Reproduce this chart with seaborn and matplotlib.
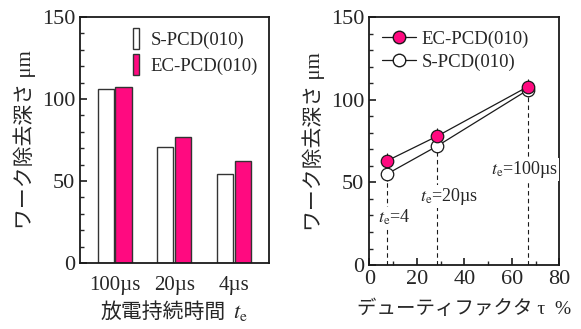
import numpy as np
import pandas as pd
import matplotlib
matplotlib.use("Agg")
import matplotlib.pyplot as plt
import seaborn as sns
from matplotlib.ticker import MultipleLocator
from matplotlib.patches import Patch
from matplotlib.lines import Line2D

sns.set_theme(style="ticks")
plt.rcParams["font.family"] = ["Liberation Serif", "Noto Sans CJK JP"]
plt.rcParams["mathtext.fontset"] = "stix"
plt.rcParams["axes.unicode_minus"] = False

# data
categories = ["100µs", "20µs", "4µs"]
s_depth = [106, 71, 54]
ec_depth = [107, 77, 62]

duty = [7.3, 28.5, 66.7]
s_line = [55, 72, 106]
ec_line = [63, 78, 108]
ec_err = [5, 5, 5]
s_err = [4, 4, 4]

pink = "#FF0A80"

bars = pd.DataFrame({
    "cat": categories * 2,
    "depth": s_depth + ec_depth,
    "type": ["S-PCD(010)"] * 3 + ["EC-PCD(010)"] * 3,
})

fig = plt.figure(figsize=(5.81, 3.29), dpi=100)
ax1 = fig.add_axes([0.1377, 0.2006, 0.3253, 0.748])
ax2 = fig.add_axes([0.6356, 0.1945, 0.327, 0.7525])

# left: bar chart
sns.barplot(data=bars, x="cat", y="depth", hue="type",
            palette=["white", pink], saturation=1, width=0.6, gap=0.1,
            edgecolor="#333333", linewidth=1.0, ax=ax1, legend=False)
ax1.set_ylim(0, 150)
ax1.set_xlim(-0.58, 2.59)
ax1.yaxis.set_major_locator(MultipleLocator(50))
ax1.yaxis.set_minor_locator(MultipleLocator(10))
ax1.tick_params(axis="y", which="major", direction="in", length=5, labelsize=16)
ax1.tick_params(axis="y", which="minor", direction="in", length=3)
ax1.tick_params(axis="x", length=0, labelsize=15, pad=9)
ax1.set_xlabel("放電持続時間", fontsize=15, labelpad=6, x=0.44)
ax1.annotate("$\\it{t}_{\\rm e}$", xy=(1, 0), xycoords=ax1.xaxis.label,
             xytext=(5, 0), textcoords="offset points",
             ha="left", va="bottom", fontsize=16)
ax1.set_ylabel("ワーク除去深さ μm", fontsize=15, labelpad=4)
h1 = [Patch(facecolor="white", edgecolor="#333333", lw=1.0),
      Patch(facecolor=pink, edgecolor="#333333", lw=1.0)]
ax1.legend(h1, ["S-PCD(010)", "EC-PCD(010)"], loc="upper right",
           frameon=False, fontsize=13.5, handlelength=0.35, handleheight=1.3,
           handletextpad=0.6, labelspacing=0.3, borderaxespad=0.2)

# right: line chart
ax2.vlines(duty, 0, s_line, colors="k", linestyles=(0, (4, 3)), lw=0.8, zorder=1)
ax2.errorbar(duty, ec_line, yerr=ec_err, fmt="none", ecolor="k", lw=0.8, zorder=2)
ax2.errorbar(duty, s_line, yerr=s_err, fmt="none", ecolor="k", lw=0.8, zorder=2)
sns.lineplot(x=duty, y=s_line, color="k", lw=0.9, marker="o", markersize=9,
             markerfacecolor="white", markeredgecolor="k", markeredgewidth=0.9,
             ax=ax2, zorder=3)
sns.lineplot(x=duty, y=ec_line, color="k", lw=0.9, marker="o", markersize=9,
             markerfacecolor=pink, markeredgecolor="k", markeredgewidth=0.9,
             ax=ax2, zorder=4)
ax2.set_xlim(0, 80)
ax2.set_ylim(0, 150)
ax2.xaxis.set_major_locator(MultipleLocator(20))
ax2.xaxis.set_minor_locator(MultipleLocator(10))
ax2.yaxis.set_major_locator(MultipleLocator(50))
ax2.yaxis.set_minor_locator(MultipleLocator(10))
ax2.tick_params(which="major", direction="in", length=5, labelsize=16)
ax2.tick_params(which="minor", direction="in", length=3)
ax2.set_xlabel("デューティファクタ τ  %", fontsize=14, labelpad=8)
ax2.set_ylabel("ワーク除去深さ μm", fontsize=15, labelpad=4)
h2 = [Line2D([], [], color="k", lw=0.9, marker="o", markersize=9,
             markerfacecolor=pink, markeredgecolor="k"),
      Line2D([], [], color="k", lw=0.9, marker="o", markersize=9,
             markerfacecolor="white", markeredgecolor="k")]
ax2.legend(h2, ["EC-PCD(010)", "S-PCD(010)"], loc="upper left",
           frameon=False, fontsize=13.5, handlelength=1.8, handletextpad=0.3,
           labelspacing=0.3, borderaxespad=0.3)

ax2.text(10.4, 29, "$\\it{t}_{\\rm e}$=4", ha="center", va="center", fontsize=13,
         bbox=dict(facecolor="white", edgecolor="none", pad=0.5))
ax2.text(33.5, 41.5, "$\\it{t}_{\\rm e}$=20µs", ha="center", va="center", fontsize=13,
         bbox=dict(facecolor="white", edgecolor="none", pad=0.5))
ax2.text(65.6, 58, "$\\it{t}_{\\rm e}$=100µs", ha="center", va="center", fontsize=13,
         bbox=dict(facecolor="white", edgecolor="none", pad=0.5))

for ax in (ax1, ax2):
    for sp in ax.spines.values():
        sp.set_linewidth(1.3)
        sp.set_color("k")

fig.savefig("out.png", dpi=100)
